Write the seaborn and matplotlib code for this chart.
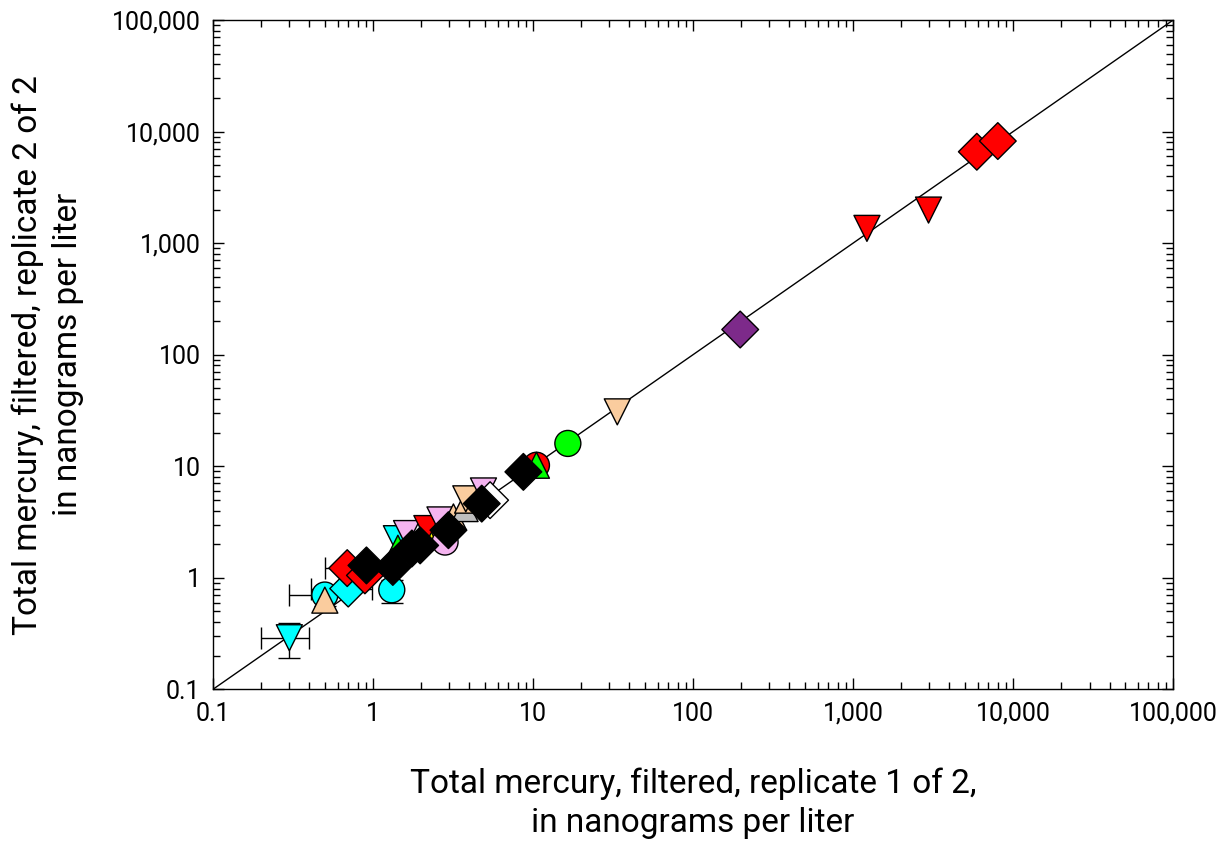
import numpy as np
import pandas as pd
import seaborn as sns
import matplotlib.pyplot as plt
from matplotlib.ticker import FuncFormatter, LogLocator

# replicate pairs (ng/L)
rep1 = [0.30, 0.50, 0.50, 0.70, 0.69, 0.89, 1.31, 1.40, 1.43, 1.62, 2.10, 2.17,
        2.62, 2.82, 3.18, 3.76, 3.90, 3.80, 4.90, 5.39, 10.5, 10.5, 16.5, 33.6,
        197, 1220, 2960, 5930, 8020,
        0.91, 1.33, 1.75, 1.97, 2.96, 4.78, 8.7]
rep2 = [0.29, 0.70, 0.63, 0.80, 1.22, 1.05, 0.78, 2.24, 1.84, 2.49, 2.60, 2.76,
        3.30, 2.09, 3.51, 4.17, 4.96, 5.10, 6.0, 4.96, 10.2, 10.2, 16.0, 30.7,
        168, 1355, 1977, 6590, 8220,
        1.29, 1.25, 1.83, 1.95, 2.67, 4.62, 8.9]
shape = ["down", "circle", "up", "diamond", "diamond", "diamond", "circle", "down",
         "up", "down", "up", "down",
         "down", "circle", "up", "up", "up", "down", "down", "diamond", "circle", "up",
         "circle", "down",
         "diamond", "down", "down", "diamond", "diamond",
         "diamond", "diamond", "diamond", "diamond", "diamond", "diamond", "diamond"]
color = ["cyan", "cyan", "peach", "cyan", "red", "red", "cyan", "cyan",
         "green", "pink", "yellow", "red",
         "pink", "pink", "peach", "gray", "peach", "peach", "pink", "white", "red", "green",
         "green", "peach",
         "purple", "red", "red", "red", "red",
         "black", "black", "black", "black", "black", "black", "black"]

# error bars (x, y, xerr, yerr)
err_x = [0.30, 0.50, 0.70, 0.69, 1.31, 0.50]
err_y = [0.29, 0.70, 0.80, 1.22, 0.78, 0.63]
err_dx = [0.10, 0.20, 0.29, 0.19, 0.0, 0.0]
err_dy = [0.10, 0.0, 0.0, 0.0, 0.18, 0.07]

palette = {"cyan": "#00FFFF", "peach": "#FACC9E", "red": "#FF0000", "green": "#00FF00",
           "pink": "#F5B4F0", "yellow": "#FFFF00", "gray": "#BEBEBE", "white": "#FFFFFF",
           "purple": "#7D2A8A", "black": "#000000"}
markers = {"down": "v", "up": "^", "circle": "o", "diamond": "D"}

df = pd.DataFrame({"rep1": rep1, "rep2": rep2, "shape": shape, "color": color})

sns.set_style("ticks")
plt.rcParams["font.family"] = ["Roboto", "DejaVu Sans"]
plt.rcParams["text.color"] = "black"
plt.rcParams["axes.labelcolor"] = "black"
plt.rcParams["xtick.color"] = "black"
plt.rcParams["ytick.color"] = "black"

fig = plt.figure(figsize=(12.17, 8.51), dpi=100)
ax = fig.add_axes([0.175, 0.19, 0.789, 0.7865])

ax.set_xscale("log")
ax.set_yscale("log")
ax.set_xlim(0.1, 100000)
ax.set_ylim(0.1, 100000)

ax.plot([0.1, 100000], [0.1, 100000], color="black", lw=1.0, zorder=1)

ax.errorbar(err_x, err_y, xerr=err_dx, yerr=err_dy, fmt="none", ecolor="black",
            elinewidth=1.0, capsize=8, capthick=1.0, zorder=2)

sns.scatterplot(data=df, x="rep1", y="rep2", hue="color", style="shape",
                palette=palette, markers=markers, s=350, edgecolor="black",
                linewidth=1.0, legend=False, ax=ax, zorder=3)

fmt = FuncFormatter(lambda v, p: "{:,}".format(int(v)) if v >= 1 else "{:g}".format(v))
for axis in (ax.xaxis, ax.yaxis):
    axis.set_major_locator(LogLocator(base=10, numticks=10))
    axis.set_minor_locator(LogLocator(base=10, subs=np.arange(2, 10), numticks=20))
    axis.set_major_formatter(fmt)
ax.tick_params(which="both", direction="in", top=True, right=True)
ax.tick_params(which="major", length=8, width=1.0, labelsize=18, pad=9)
ax.tick_params(which="minor", length=5, width=1.0)
for sp in ax.spines.values():
    sp.set_color("black")
    sp.set_linewidth(1.0)

ax.set_xlabel("Total mercury, filtered, replicate 1 of 2,\nin nanograms per liter",
              fontsize=24, labelpad=30, linespacing=1.3)
ax.set_ylabel("Total mercury, filtered, replicate 2 of 2\nin nanograms per liter",
              fontsize=24, labelpad=20, linespacing=1.3)

fig.savefig("out.png", dpi=100)
